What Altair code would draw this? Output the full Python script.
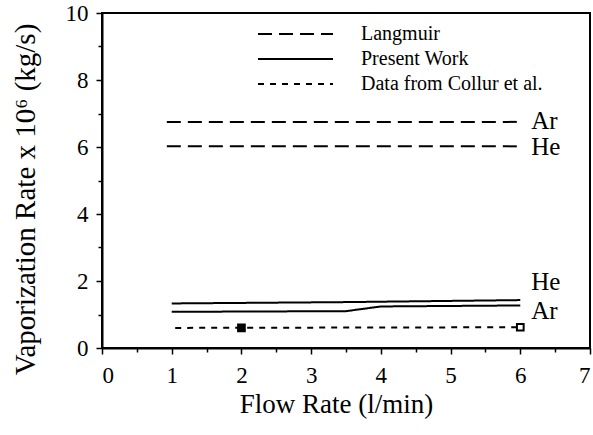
import altair as alt
import pandas as pd

FONT = "Liberation Serif, Times New Roman, serif"

# ---- data ----
series_names = ["Langmuir", "Present Work", "Data from Collur et al."]

lang_x = [0.93, 6.0]
lang_ar_y = [6.75, 6.75]
lang_he_y = [6.02, 6.02]

pw_he_x = [1.0, 3.5, 6.0]
pw_he_y = [1.33, 1.37, 1.43]
pw_ar_x = [1.0, 3.5, 4.0, 6.0]
pw_ar_y = [1.08, 1.10, 1.24, 1.27]

col_x = [1.05, 6.0]
col_y = [0.60, 0.62]

pt_x = [2.0, 6.0]
pt_y = [0.60, 0.62]
pt_kind = ["filled", "open"]

lab_text = ["Ar", "He", "He", "Ar"]
lab_x = [6.0, 6.0, 6.0, 6.0]
lab_y = [6.78, 6.0, 1.97, 1.10]

x_ticks = [0, 1, 2, 3, 4, 5, 6, 7]
y_ticks = [0, 2, 4, 6, 8, 10]
x_minor = [0.5, 1.5, 2.5, 3.5, 4.5, 5.5, 6.5]
y_minor = [1, 3, 5, 7, 9]

# ---- build tables ----
rows = []
def add(series, key, xs, ys):
    for i, (a, b) in enumerate(zip(xs, ys)):
        rows.append({"series": series, "key": key, "x": a, "y": b, "order": i})

add("Langmuir", "lang_ar", lang_x, lang_ar_y)
add("Langmuir", "lang_he", lang_x, lang_he_y)
add("Present Work", "pw_he", pw_he_x, pw_he_y)
add("Present Work", "pw_ar", pw_ar_x, pw_ar_y)
add("Data from Collur et al.", "col", col_x, col_y)
lines_df = pd.DataFrame(rows)

pts_df = pd.DataFrame({"x": pt_x, "y": pt_y, "kind": pt_kind})
lab_df = pd.DataFrame({"x": lab_x, "y": lab_y, "text": lab_text})

xscale = alt.Scale(domain=[0, 7], nice=False, zero=False)
yscale = alt.Scale(domain=[0, 10], nice=False)

xaxis = alt.Axis(values=x_ticks, title="Flow Rate (l/min)", format="d",
                 titleX=234, titleY=64, titleAlign="center", titleBaseline="alphabetic",
                 labelPadding=10, labelFont=FONT, titleFont=FONT, titleFontSize=27)
yaxis = alt.Axis(values=y_ticks, title="Vaporization Rate x 10⁶ (kg/s)", format="d",
                 titleX=-68, titleY=186, titleAlign="center", titleBaseline="alphabetic",
                 titleAngle=-90, labelPadding=8, labelFont=FONT, titleFont=FONT,
                 titleFontSize=29)

lines = alt.Chart(lines_df).mark_line(color="black", strokeWidth=2).encode(
    x=alt.X("x:Q", scale=xscale, axis=xaxis),
    y=alt.Y("y:Q", scale=yscale, axis=yaxis),
    strokeDash=alt.StrokeDash(
        "series:N",
        scale=alt.Scale(domain=series_names, range=[[14, 7], [1, 0], [6, 6]]),
        legend=alt.Legend(
            title=None, orient="none", legendX=155, legendY=12,
            symbolType="stroke", symbolSize=5625, symbolStrokeWidth=2,
            symbolStrokeColor="black", labelFont=FONT, labelFontSize=20,
            labelColor="black", labelOffset=27, clipHeight=18, rowPadding=5,
            labelLimit=400,
        ),
    ),
    detail="key:N",
    order="order:Q",
)

# minor ticks as a second pair of axes on the same scales
minor_df = pd.DataFrame({"x": x_minor[:5], "y": y_minor})
minor = alt.Chart(minor_df).mark_point(opacity=0).encode(
    x=alt.X("x:Q", scale=xscale,
            axis=alt.Axis(values=x_minor, labels=False, title=None, domain=False,
                          tickSize=4, orient="bottom")),
    y=alt.Y("y:Q", scale=yscale,
            axis=alt.Axis(values=y_minor, labels=False, title=None, domain=False,
                          tickSize=4, orient="left")),
)

points = alt.Chart(pts_df).mark_point(shape="square", size=45, strokeWidth=2,
                                      stroke="black", opacity=1).encode(
    x=alt.X("x:Q", scale=xscale),
    y=alt.Y("y:Q", scale=yscale),
    fill=alt.Fill("kind:N", scale=alt.Scale(domain=["filled", "open"],
                                            range=["black", "white"]), legend=None),
)

labels = alt.Chart(lab_df).mark_text(font=FONT, fontSize=25, align="left",
                                     baseline="middle", dx=11, color="black").encode(
    x=alt.X("x:Q", scale=xscale),
    y=alt.Y("y:Q", scale=yscale),
    text="text:N",
)

main = alt.layer(lines, points, labels)

chart = alt.layer(main, minor).resolve_axis(x="independent", y="independent").properties(
    width=488, height=335,
    background="white",
    autosize=alt.AutoSizeParams(type="none"),
    padding={"left": 102, "top": 13, "right": 3, "bottom": 87},
).configure_view(
    stroke="black", strokeWidth=2,
).configure_axis(
    grid=False, domainColor="black", domainWidth=2, tickColor="black",
    tickWidth=1.5, tickSize=6, labelFont=FONT, labelFontSize=23,
    labelColor="black", titleFont=FONT, titleFontSize=28,
    titleFontWeight="normal", titleColor="black",
)

chart.save("out.html", embed_options={"renderer": "svg", "actions": False})
